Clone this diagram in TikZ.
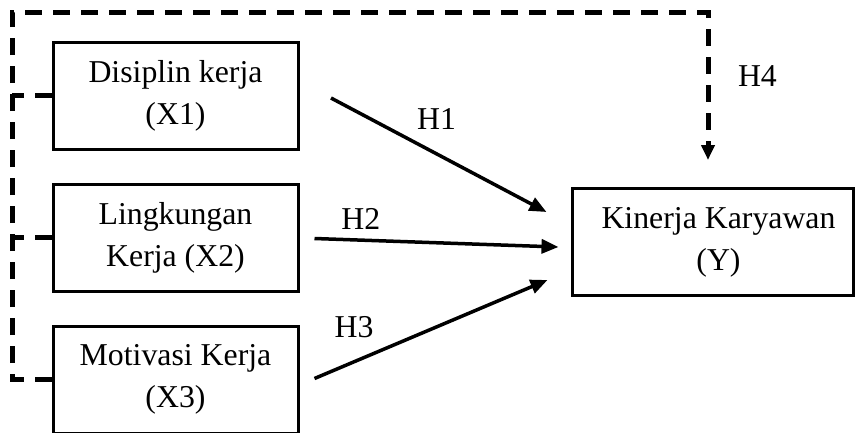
\documentclass[tikz,border=0pt]{standalone}
\usepackage{fontspec}
\setmainfont{Liberation Serif}
\usetikzlibrary{arrows.meta, calc, positioning}

\begin{document}
\begin{tikzpicture}[x=1pt,y=-1pt,node distance=32pt]
  \tikzstyle{var}=[draw,line width=3pt,minimum width=245pt,minimum height=107pt,align=center,font=\fontsize{31.8}{42}\selectfont]
  \tikzstyle{hyp}=[line width=3.5pt,-{Triangle[length=17pt,width=14pt]}]
  \tikzstyle{mod}=[line width=5pt,dash pattern=on 17pt off 11pt]
  \tikzstyle{lbl}=[inner sep=0pt,font=\fontsize{31.8}{42}\selectfont]

  \useasboundingbox (0,0) rectangle (855,432);
  \clip (0,0) rectangle (855,432);

  \node[var]                     (x1) at (175.5,95.5) {Disiplin kerja\\(X1)};
  \node[var]                     (x2) [below=of x1]   {Lingkungan\\Kerja (X2)};
  \node[var]                     (x3) [below=of x2]   {Motivasi Kerja\\(X3)};
  \node[var,minimum width=281pt] (y)  at (712.5,242)
    {\hspace*{12pt}Kinerja Karyawan\\\hspace*{12pt}(Y)};

  \coordinate (tl) at (12,12);
  \coordinate (tr) at (708,12);
  \coordinate (h4) at (708,160);

  % moderating path
  \draw[mod,-{Triangle[length=15pt,width=13pt]}] (x3.west) -| (tl) -- (tr)
    -- node[lbl,pos=.43,right=27.5pt] {H4} (h4);
  \draw[mod] (x1.west) -- (x1.west -| tl);
  \draw[mod] (x2.west) -- (x2.west -| tl);

  % direct effects
  \draw[hyp] ($(x1.east)+(31.5,2.5)$) -- node[lbl,pos=.49,above=22.5pt] {H1} ($(y.west)+(-24,-30)$);
  \draw[hyp] ($(x2.east)+(15,1)$)     -- node[lbl,pos=.19,above=9pt]    {H2} ($(y.west)+(-12,5)$);
  \draw[hyp] ($(x3.east)+(15,-1)$)    -- node[lbl,pos=.17,above=22pt]   {H3} ($(y.west)+(-23,38)$);
\end{tikzpicture}
\end{document}
